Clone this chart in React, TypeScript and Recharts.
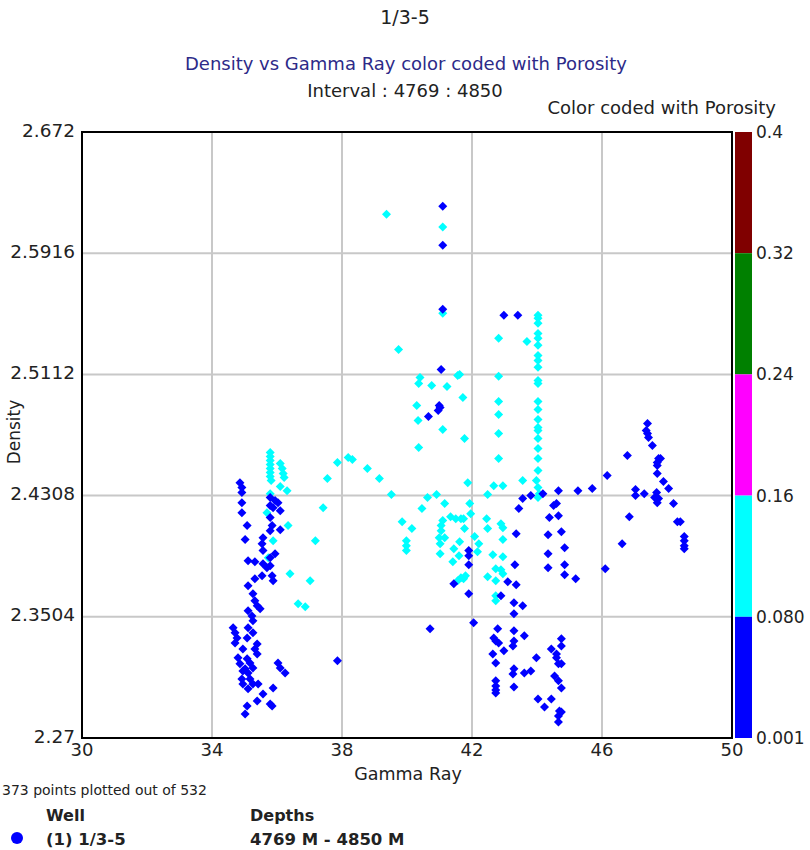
import React from "react";
import {
  ScatterChart,
  Scatter,
  XAxis,
  YAxis,
  CartesianGrid,
  ReferenceArea,
} from "recharts";

// Gamma Ray / Density pairs, grouped by porosity band
const lowPorosityPoints: [number, number][] = [
  // left cluster
  [34.86, 2.4394], [34.92, 2.4361], [34.92, 2.4328], [34.92, 2.4261], [34.92, 2.4195],
  [35.08, 2.4109], [35.02, 2.4016], [35.79, 2.4295], [35.94, 2.4275], [36.03, 2.4261],
  [35.79, 2.4242], [35.88, 2.4228], [36.1, 2.4208], [35.79, 2.4162], [35.85, 2.4109],
  [36.1, 2.4082], [35.79, 2.4075], [35.57, 2.4029], [35.54, 2.3989], [35.57, 2.3943],
  [35.94, 2.3923], [35.79, 2.3896], [35.11, 2.3876], [35.32, 2.3869], [35.57, 2.3856],
  [35.69, 2.383], [35.79, 2.3843], [35.85, 2.3776], [35.88, 2.3743], [35.54, 2.3776],
  [35.32, 2.3757], [35.11, 2.371], [35.26, 2.3657], [35.32, 2.361], [35.39, 2.3577],
  [35.48, 2.3557], [35.11, 2.3544], [35.23, 2.351], [35.26, 2.3477], [34.65, 2.3431],
  [34.71, 2.3398], [34.77, 2.3364], [34.71, 2.3331], [35.11, 2.3431], [35.26, 2.3398],
  [35.08, 2.3364], [35.39, 2.3324], [35.32, 2.3291], [35.39, 2.3258], [34.95, 2.3291],
  [34.8, 2.3232], [34.86, 2.3192], [34.95, 2.3145], [35.08, 2.3225], [35.17, 2.3198],
  [35.26, 2.3165], [35.02, 2.3159], [35.11, 2.3132], [36.03, 2.3198], [36.1, 2.3165],
  [36.25, 2.3132], [34.92, 2.3092], [34.95, 2.3059], [35.17, 2.3092], [35.26, 2.3059],
  [35.42, 2.3059], [35.11, 2.3026], [35.88, 2.3032], [35.57, 2.2992], [35.39, 2.2946],
  [35.79, 2.2926], [35.85, 2.2912], [35.08, 2.2912], [35.02, 2.2859],
  // middle
  [41.1, 2.6228], [41.1, 2.5969], [41.1, 2.5544], [41.05, 2.5145], [40.99, 2.4906],
  [40.96, 2.4873], [41.02, 2.4893], [40.66, 2.4833], [42.98, 2.5504], [43.41, 2.5504],
  [41.9, 2.3943], [41.9, 2.3909], [41.9, 2.3849], [41.44, 2.3723], [41.9, 2.3657],
  [42.05, 2.3464], [40.71, 2.3424], [37.86, 2.3212],
  // right of 42
  [43.81, 2.4308], [43.56, 2.4288], [43.44, 2.4222], [44.18, 2.4321], [44.66, 2.4341],
  [45.26, 2.4341], [45.7, 2.4355], [44.51, 2.4242], [44.6, 2.4255], [44.38, 2.4162],
  [44.66, 2.4175], [43.36, 2.4055], [44.34, 2.4049], [44.75, 2.4069], [44.85, 2.3962],
  [44.34, 2.3923], [44.34, 2.383], [44.85, 2.3849], [44.85, 2.3783], [45.19, 2.3757],
  [43.32, 2.3849], [43.1, 2.3737], [43.36, 2.3717], [42.89, 2.3643], [43.29, 2.3597],
  [43.56, 2.3577], [43.29, 2.3524],
  // lower block
  [42.79, 2.3424], [43.29, 2.3411], [43.61, 2.3378], [42.67, 2.3364], [42.73, 2.3344],
  [42.82, 2.3331], [43.29, 2.3344], [43.26, 2.3311], [42.98, 2.3278], [42.64, 2.3258],
  [42.73, 2.3198], [43.98, 2.3232], [44.44, 2.3291], [44.6, 2.3258], [44.6, 2.3232],
  [44.75, 2.3358], [44.75, 2.3311], [44.66, 2.3192], [44.75, 2.3192], [43.29, 2.3159],
  [43.26, 2.3125], [43.61, 2.3132], [43.81, 2.3145], [44.54, 2.3112], [44.66, 2.3079],
  [44.75, 2.3032], [42.73, 2.3079], [42.73, 2.3045], [42.73, 2.3019], [42.73, 2.2999],
  [43.29, 2.3039], [44.03, 2.2959], [44.44, 2.2959], [44.23, 2.2906], [44.69, 2.2879],
  [44.75, 2.2873], [44.66, 2.2846], [44.66, 2.2806],
  // right cluster
  [47.4, 2.4786], [47.36, 2.474], [47.4, 2.472], [47.43, 2.4693], [47.55, 2.464],
  [46.78, 2.4574], [47.74, 2.4554], [47.8, 2.4554], [47.7, 2.4527], [47.7, 2.4507],
  [47.7, 2.4454], [47.89, 2.4401], [48.05, 2.4355], [46.16, 2.4441], [47.03, 2.4348],
  [47.03, 2.4308], [47.3, 2.4321], [47.68, 2.4328], [47.62, 2.4295], [47.74, 2.4288],
  [47.7, 2.4261], [48.2, 2.4255], [48.32, 2.4135], [48.41, 2.4135], [48.53, 2.4036],
  [48.53, 2.4009], [48.53, 2.3976], [48.53, 2.3956], [46.84, 2.4168], [46.62, 2.3989],
  [46.1, 2.3823],
];

const midPorosityPoints: [number, number][] = [
  // left cluster
  [35.79, 2.4594], [35.79, 2.4567], [35.79, 2.4541], [35.79, 2.4514], [35.79, 2.4487],
  [35.79, 2.4461], [35.79, 2.4434], [35.82, 2.4408], [36.1, 2.4521], [36.16, 2.4487],
  [36.19, 2.4454], [36.22, 2.4428], [36.1, 2.4368], [36.31, 2.4341], [37.55, 2.4421],
  [37.42, 2.4228], [36.34, 2.4109], [37.18, 2.4009], [35.88, 2.4009], [36.4, 2.379],
  [37.02, 2.3743], [36.65, 2.359], [36.87, 2.357], [35.79, 2.4321], [35.69, 2.4195],
  [35.73, 2.3896],
  // middle
  [39.37, 2.6175], [41.1, 2.6089], [41.1, 2.5517], [39.74, 2.5278], [40.4, 2.5092],
  [40.36, 2.5052], [40.76, 2.5039], [41.23, 2.5032], [41.56, 2.5105], [41.62, 2.5112],
  [40.3, 2.4906], [40.34, 2.4806], [41.72, 2.4959], [41.1, 2.4747], [41.77, 2.4687],
  [40.36, 2.4627], [42.82, 2.5351], [43.69, 2.5331],
  [44.03, 2.5504], [44.03, 2.5484], [44.03, 2.5451], [44.03, 2.5384], [44.03, 2.5351],
  [44.03, 2.5305], [44.03, 2.5238], [44.03, 2.5205], [44.03, 2.5159], [44.03, 2.5072],
  [44.03, 2.5052], [44.03, 2.4933], [44.03, 2.4879], [44.03, 2.4813], [44.03, 2.476],
  [44.03, 2.474], [44.03, 2.4687], [44.03, 2.462], [44.03, 2.4554],
  [42.82, 2.5099], [42.82, 2.4933], [42.82, 2.4846], [42.82, 2.472], [42.82, 2.4554],
  [44.03, 2.4474], [41.87, 2.4394], [42.67, 2.4374], [42.95, 2.4374], [43.56, 2.4408],
  [43.98, 2.4408], [44.03, 2.4361], [44.07, 2.4321], [44.03, 2.4295],
  [37.86, 2.4527], [38.19, 2.456], [38.32, 2.4547], [38.78, 2.4487], [39.15, 2.4421],
  [39.52, 2.4315], [40.63, 2.4295], [40.91, 2.4315], [41.16, 2.4255], [40.46, 2.4222],
  [39.85, 2.4135], [40.15, 2.4089], [39.98, 2.4009], [39.98, 2.3976], [39.98, 2.3943],
  [41.1, 2.4142], [41.05, 2.4109], [41.05, 2.4075], [40.99, 2.4029], [41.16, 2.4029],
  [41.02, 2.3989], [41.02, 2.3923], [41.34, 2.4168], [41.5, 2.4155], [41.66, 2.4155],
  [41.74, 2.4155], [41.77, 2.4089], [41.62, 2.4002], [41.44, 2.3956], [41.6, 2.3909],
  [41.41, 2.3869], [41.66, 2.3763], [41.8, 2.3776], [41.74, 2.3757], [41.56, 2.3743],
  [41.93, 2.4255], [41.96, 2.4188], [42.48, 2.4315], [42.08, 2.4036], [42.21, 2.3989],
  [42.17, 2.3936], [42.45, 2.4155], [42.48, 2.4089], [42.64, 2.3916], [42.48, 2.377],
  [42.73, 2.3823], [42.73, 2.3743], [42.89, 2.4122], [42.95, 2.4095], [42.95, 2.4016],
  [42.95, 2.3903], [42.89, 2.3816], [42.95, 2.379], [42.73, 2.3643], [42.73, 2.361],
];

const xTicks = [30, 34, 38, 42, 46, 50];
const yTicks = [2.27, 2.3504, 2.4308, 2.5112, 2.5916, 2.672];

// porosity colour bar, top band first
const bandColors = ["#800000", "#008000", "#ff00ff", "#00ffff", "#0000ff"];
const bandLabels = ["0.4", "0.32", "0.24", "0.16", "0.080", "0.001"];

const toRows = (pts: [number, number][]) => pts.map(([gr, den]) => ({ gr, den }));

const W = 810;
const H = 850;
const PLOT = { left: 82, top: 132, right: 732, bottom: 738 };
const FONT = "'DejaVu Sans', Verdana, sans-serif";

const Diamond = (props: any) => {
  const { cx, cy, fill } = props;
  if (cx == null || cy == null) return null;
  const r = 4.5;
  return (
    <path
      d={`M${cx},${cy - r}L${cx + r},${cy}L${cx},${cy + r}L${cx - r},${cy}Z`}
      fill={fill}
    />
  );
};

// y labels sit a little above their gridline so 2.27 clears the x labels
const YTick = (props: any) => {
  const { x, y, payload } = props;
  return (
    <text
      x={x}
      y={y - 2}
      textAnchor="end"
      dominantBaseline="central"
      fontSize={18.5}
      fill="#222"
      fontFamily={FONT}
    >
      {payload.value}
    </text>
  );
};

export default function App() {
  const plotH = PLOT.bottom - PLOT.top;
  const bandH = plotH / bandColors.length;

  return (
    <div style={{ position: "absolute", left: 0, top: 0, width: W, height: H, background: "#fff" }}>
      <ScatterChart
        width={W}
        height={H}
        margin={{ top: PLOT.top, right: W - PLOT.right, bottom: H - PLOT.bottom - 30, left: 2 }}
      >
        <CartesianGrid stroke="#c8c8c8" strokeWidth={2} vertical horizontal />
        <XAxis
          type="number"
          dataKey="gr"
          domain={[30, 50]}
          ticks={xTicks}
          height={30}
          axisLine={false}
          tickLine={false}
          tickSize={2}
          tickMargin={3}
          tick={{ fontSize: 18, fill: "#222", fontFamily: FONT }}
        />
        <YAxis
          type="number"
          dataKey="den"
          domain={[2.27, 2.672]}
          ticks={yTicks}
          width={80}
          axisLine={false}
          tickLine={false}
          tickSize={5}
          tickMargin={2}
          interval={0}
          tick={<YTick />}
        />
        <ReferenceArea
          x1={30}
          x2={50}
          y1={2.27}
          y2={2.672}
          fill="none"
          stroke="#000"
          strokeWidth={2}
          fillOpacity={0}
        />
        <Scatter
          data={toRows(midPorosityPoints)}
          fill="#00ffff"
          shape={<Diamond />}
          isAnimationActive={false}
        />
        <Scatter
          data={toRows(lowPorosityPoints)}
          fill="#0000ff"
          shape={<Diamond />}
          isAnimationActive={false}
        />
      </ScatterChart>

      <svg
        width={W}
        height={H}
        style={{ position: "absolute", left: 0, top: 0, pointerEvents: "none" }}
        fontFamily={FONT}
      >
        <text x={405} y={17} textAnchor="middle" dominantBaseline="central" fontSize={19} fill="#222">
          1/3-5
        </text>
        <text x={406} y={63} textAnchor="middle" dominantBaseline="central" fontSize={18} fill="#2d2a88">
          Density vs Gamma Ray color coded with Porosity
        </text>
        <text x={405} y={90} textAnchor="middle" dominantBaseline="central" fontSize={18} fill="#222">
          Interval : 4769 : 4850
        </text>
        <text x={776} y={107} textAnchor="end" dominantBaseline="central" fontSize={18} fill="#222">
          Color coded with Porosity
        </text>

        {/* colour bar */}
        {bandColors.map((c, i) => (
          <rect key={c} x={735} y={PLOT.top + i * bandH} width={17} height={bandH} fill={c} />
        ))}
        {bandLabels.map((t, i) => (
          <text
            key={t}
            x={756}
            y={PLOT.top + i * bandH}
            dominantBaseline="central"
            fontSize={17}
            fill="#222"
          >
            {t}
          </text>
        ))}

        <text x={408} y={774} textAnchor="middle" dominantBaseline="central" fontSize={17.5} fill="#222">
          Gamma Ray
        </text>
        <text
          x={14}
          y={432}
          textAnchor="middle"
          dominantBaseline="central"
          fontSize={17}
          fill="#222"
          transform="rotate(-90 14 432)"
        >
          Density
        </text>

        {/* footer legend */}
        <text x={2} y={790} dominantBaseline="central" fontSize={14} fill="#222">
          373 points plotted out of 532
        </text>
        <text x={46} y={815} dominantBaseline="central" fontSize={16} fontWeight="bold" fill="#222">
          Well
        </text>
        <text x={250} y={815} dominantBaseline="central" fontSize={16} fontWeight="bold" fill="#222">
          Depths
        </text>
        <circle cx={17} cy={838} r={6} fill="#0000ff" />
        <text x={46} y={839} dominantBaseline="central" fontSize={16.5} fontWeight="bold" fill="#222">
          (1) 1/3-5
        </text>
        <text x={250} y={839} dominantBaseline="central" fontSize={16.5} fontWeight="bold" fill="#222">
          4769 M - 4850 M
        </text>
      </svg>
    </div>
  );
}
